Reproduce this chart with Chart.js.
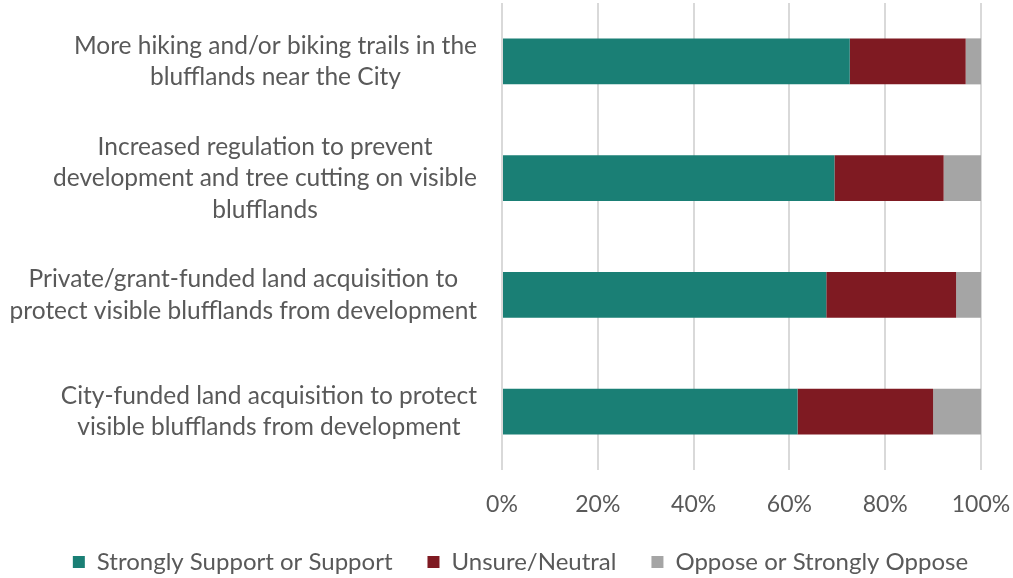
<!DOCTYPE html>
<html>
<head>
<meta charset="utf-8">
<script src="https://cdn.jsdelivr.net/npm/chart.js@4"></script>
<style>
  html, body { margin: 0; padding: 0; background: #fff; }
  #wrap { width: 1013px; height: 578px; }
</style>
</head>
<body>
<div id="wrap"><canvas id="barChart"></canvas></div>
<script>
const categories = [
  ['More hiking and/or biking trails in the', 'blufflands near the City'],
  ['Increased regulation to prevent', 'development and tree cutting on visible', 'blufflands'],
  ['Private/grant-funded land acquisition to', 'protect visible blufflands from development'],
  ['City-funded land acquisition to protect', 'visible blufflands from development']
];
const support = [72.6, 69.4, 67.7, 61.7];
const neutral = [24.2, 22.8, 27.1, 28.3];
const oppose = [3.2, 7.8, 5.2, 10.0];
const xTicks = [0, 20, 40, 60, 80, 100];

const FONT = 'Lato, "Open Sans", sans-serif';
const GREY_TEXT = '#595959';

// category labels: each block right aligned, its lines centered inside it
const catLabels = {
  id: 'catLabels',
  afterInit(chart) {
    // keep the wide legend item gap without a tall legend box
    const lg = chart.legend;
    const fit = lg.fit;
    lg.fit = function () {
      fit.call(this);
      this.height = 63;
    };
  },
  afterLayout(chart) {
    chart.legend.left += 30;
    chart.legend.right += 30;
  },
  afterDraw(chart) {
    const { ctx } = chart;
    const y = chart.scales.y;
    ctx.save();
    ctx.font = '24.5px ' + FONT;
    ctx.fillStyle = GREY_TEXT;
    ctx.textAlign = 'center';
    ctx.textBaseline = 'middle';
    const lh = 31.5;
    const right = y.right - 25;
    categories.forEach((lines, i) => {
      const w = Math.max(...lines.map(l => ctx.measureText(l).width));
      const cx = right - w / 2;
      const cy = y.getPixelForTick(i);
      lines.forEach((l, j) => {
        ctx.fillText(l, cx, cy + (j - (lines.length - 1) / 2) * lh);
      });
    });
    ctx.restore();
  }
};

new Chart(document.getElementById('barChart'), {
  type: 'bar',
  data: {
    labels: categories.map(c => c.join(' ')),
    datasets: [
      { label: 'Strongly Support or Support', data: support, backgroundColor: '#1a7f75' },
      { label: 'Unsure/Neutral', data: neutral, backgroundColor: '#7f1a22' },
      { label: 'Oppose or Strongly Oppose', data: oppose, backgroundColor: '#a5a5a5' }
    ]
  },
  options: {
    indexAxis: 'y',
    responsive: true,
    maintainAspectRatio: false,
    animation: false,
    layout: { padding: { top: 3, right: 32, bottom: 0, left: 0 } },
    datasets: { bar: { categoryPercentage: 1, barPercentage: 0.394 } },
    plugins: {
      legend: {
        position: 'bottom',
        labels: {
          boxWidth: 12,
          boxHeight: 12,
          padding: 35,
          color: GREY_TEXT,
          font: { family: FONT, size: 24 }
        }
      },
      tooltip: { enabled: false }
    },
    scales: {
      x: {
        stacked: true,
        min: 0,
        max: 100,
        afterBuildTicks: scale => { scale.ticks = xTicks.map(v => ({ value: v })); },
        afterFit: scale => {
          scale.height = 45;
          scale.paddingLeft = 0;
          scale.paddingRight = 0;
        },
        grid: { color: '#d9d9d9', lineWidth: 2, drawTicks: false },
        border: { display: false },
        ticks: {
          padding: 21,
          color: GREY_TEXT,
          font: { family: FONT, size: 23 },
          callback: v => v + '%'
        }
      },
      y: {
        stacked: true,
        grid: { display: false },
        border: { display: false },
        ticks: { display: false },
        afterFit: scale => { scale.width = 502; }
      }
    }
  },
  plugins: [catLabels]
});
</script>
</body>
</html>
